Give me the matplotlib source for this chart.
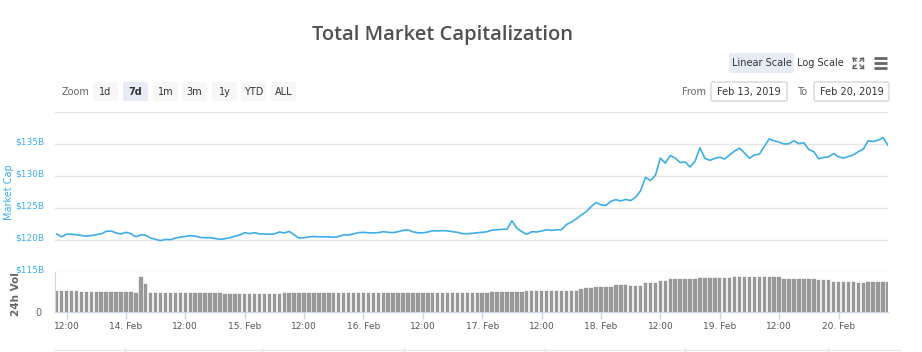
import numpy as np
import matplotlib
matplotlib.use("Agg")
import matplotlib.pyplot as plt
import matplotlib.dates as mdates
from matplotlib.patches import FancyBboxPatch
from matplotlib.ticker import FuncFormatter
from matplotlib.transforms import ScaledTranslation

# data: hours after 2019-02-13 00:00 (UTC), market cap in $B, 24h volume in $B
start = np.datetime64("2019-02-13T00:00")
hours = list(range(10, 179))

mcap = [120.94, 120.5, 120.9, 120.9, 120.83, 120.7, 120.6, 120.7, 120.85, 120.95,
        121.36, 121.4, 121.1, 120.94, 121.2, 121.0, 120.5, 120.8, 120.75, 120.3,
        120.1, 119.9, 120.1, 120.05, 120.3, 120.45, 120.55, 120.67, 120.6, 120.4,
        120.36, 120.36, 120.25, 120.1, 120.2, 120.35, 120.6, 120.78, 121.14, 121.0,
        121.14, 120.95, 120.94, 120.9, 120.95, 121.25, 121.1, 121.35, 120.8, 120.3,
        120.36, 120.48, 120.55, 120.5, 120.5, 120.5, 120.42, 120.55, 120.8, 120.8,
        120.95, 121.15, 121.2, 121.12, 121.12, 121.15, 121.3, 121.2, 121.15, 121.3,
        121.5, 121.58, 121.28, 121.12, 121.12, 121.25, 121.45, 121.42, 121.46, 121.42,
        121.3, 121.2, 120.98, 120.98, 121.05, 121.14, 121.2, 121.3, 121.55, 121.6,
        121.67, 121.67, 123.0, 121.85, 121.3, 120.9, 121.3, 121.25, 121.4, 121.6,
        121.5, 121.6, 121.6, 122.4, 122.8, 123.3, 123.9, 124.4, 125.2, 125.85,
        125.5, 125.4, 126.05, 126.3, 126.1, 126.35, 126.15, 126.7, 127.7, 129.8,
        129.3, 130.1, 132.8, 132.0, 133.2, 132.8, 132.1, 132.2, 131.4, 132.3,
        134.4, 132.76, 132.45, 132.75, 132.95, 132.66, 133.3, 133.9, 134.35, 133.6,
        132.76, 133.3, 133.4, 134.6, 135.8, 135.5, 135.3, 135.0, 135.05, 135.5,
        135.05, 135.2, 134.15, 133.8, 132.7, 132.9, 133.0, 133.5, 133.0, 132.8,
        133.05, 133.3, 133.8, 134.2, 135.5, 135.4, 135.6, 136.0, 134.8]

volume = [21, 21, 21, 21, 21, 19.7, 19.7, 19.7, 19.7, 19.7,
          19.7, 19.7, 19.7, 19.7, 19.7, 19.7, 19, 35, 28, 19,
          19, 19, 19, 19, 19, 19, 19, 19, 19, 19,
          19, 19, 19, 19, 18.3, 18.3, 18.3, 18.3, 18.3, 18.3,
          18.3, 18.3, 18.3, 18.3, 18.3, 18.3, 19, 19, 19, 19,
          19, 19, 19, 19, 19, 19, 19, 19, 19, 19,
          19, 19, 19, 19, 19, 19, 19, 19, 19, 19,
          19, 19, 19, 19, 19, 19, 19, 19, 19, 19,
          19, 19, 19, 19, 19, 19, 19, 19, 20.5, 20.5,
          20.5, 20.5, 20.5, 20.5, 20.5, 21.5, 21.5, 21.5, 21.5, 21.5,
          21.5, 21.5, 21.5, 21.5, 21.5, 21.5, 22.7, 24.3, 24.3, 25.3,
          25.3, 25.3, 25.3, 26.7, 26.7, 26.7, 26, 26, 26, 28.7,
          28.7, 28.7, 30.7, 30.7, 32.7, 32.7, 32.7, 32.7, 32.7, 32.7,
          33.7, 33.7, 33.7, 33.7, 33.7, 33.7, 33.7, 35, 35, 35,
          35, 35, 35, 35, 35, 35, 35, 33.3, 33.3, 33.3,
          33.3, 33.3, 33.3, 33.3, 32, 32, 32, 30, 30, 30,
          30, 30, 29, 29, 30, 30, 30, 30, 30]

cap_ticks = [115, 120, 125, 130, 135, 140]
zoom_buttons = ["1d", "7d", "1m", "3m", "1y", "YTD", "ALL"]
date_from = "Feb 13, 2019"
date_to = "Feb 20, 2019"

W, H = 922, 352
BLUE = "#3daeea"
GRID = "#e6e6e6"
AXIS = "#ccd6eb"
TXT = "#333333"


def frac(x0, y0, x1, y1):
    # pixel box (top-left origin) -> figure fraction rect
    return [x0 / W, 1 - y1 / H, (x1 - x0) / W, (y1 - y0) / H]


times = start + np.array(hours) * np.timedelta64(1, "h")
t = mdates.date2num(times.astype("datetime64[s]").astype(object))
x_lo = mdates.date2num(np.datetime64("2019-02-13T09:40").astype(object))
x_hi = t[-1]

fig = plt.figure(figsize=(W / 100, H / 100), dpi=100)
fig.patch.set_facecolor("white")

# overlay for the page furniture, in pixel coords
bg = fig.add_axes([0, 0, 1, 1])
bg.set_xlim(0, W)
bg.set_ylim(H, 0)
bg.axis("off")

bg.text(443, 35, "Total Market Capitalization", ha="center", va="center",
        fontsize=14.5, color="#505050", family="Open Sans", fontweight="semibold")


def button(x0, x1, y0, y1, label, fc, bold=False, ec="none"):
    bg.add_patch(FancyBboxPatch((x0, y0), x1 - x0, y1 - y0,
                                boxstyle="round,pad=0,rounding_size=2",
                                fc=fc, ec=ec, lw=0.8))
    bg.text((x0 + x1) / 2, (y0 + y1) / 2 + 0.5, label, ha="center", va="center",
            fontsize=7, color=TXT, fontweight="bold" if bold else "normal")


bg.text(62, 92, "Zoom", ha="left", va="center", fontsize=7, color="#666666")
bx = [93, 123, 153, 182, 212, 241, 271]
for i, lab in enumerate(zoom_buttons):
    sel = lab == "7d"
    button(bx[i], bx[i] + 25, 82, 101, lab, "#e6ebf5" if sel else "#f7f7f7", bold=sel)

button(729, 794, 53, 73, "Linear Scale", "#e6ebf5")
bg.text(820, 63.5, "Log Scale", ha="center", va="center", fontsize=7, color=TXT)

# fullscreen icon
c = "#666666"
for sx, sy in [(-1, -1), (1, -1), (-1, 1), (1, 1)]:
    cx, cy = 858 + sx * 5, 63 + sy * 5
    bg.plot([cx, cx - sx * 3], [cy, cy - sy * 3], color=c, lw=1)
    bg.plot([cx, cx - sx * 3], [cy, cy], color=c, lw=1)
    bg.plot([cx, cx], [cy, cy - sy * 3], color=c, lw=1)
# menu icon
for yy in [58, 63, 68]:
    bg.plot([874, 887], [yy, yy], color="#666666", lw=2, solid_capstyle="butt")

bg.text(694, 92, "From", ha="center", va="center", fontsize=7, color="#666666")
button(711, 787, 82, 101, date_from, "white", ec="#cccccc")
bg.text(802, 92, "To", ha="center", va="center", fontsize=7, color="#666666")
button(814, 889, 82, 101, date_to, "white", ec="#cccccc")

# navigator edge at the very bottom
bg.plot([55, 900], [350, 350], color=GRID, lw=1)
for xx in [125, 262, 404, 545, 685, 828]:
    bg.plot([xx, xx], [348, 352], color=GRID, lw=1)

# market cap panel
ax = fig.add_axes(frac(55, 112, 888, 272))
ax.plot(t, mcap, color=BLUE, lw=1.2)
ax.set_xlim(x_lo, x_hi)
ax.set_ylim(115, 140)
ax.set_yticks(cap_ticks)
ax.yaxis.set_major_formatter(FuncFormatter(lambda v, p: "" if v >= 140 else "$%dB" % v))
ax.tick_params(axis="y", length=0, pad=8, labelsize=6.5, labelcolor=BLUE)
lift = ScaledTranslation(0, 3 / 100, fig.dpi_scale_trans)
for lab in ax.get_yticklabels():
    lab.set_transform(lab.get_transform() + lift)
ax.set_xticks([])
ax.grid(axis="y", color=GRID, lw=1)
for s in ax.spines.values():
    s.set_visible(False)
ax.set_facecolor("none")
ax.set_ylabel("Market Cap", color=BLUE, fontsize=7, labelpad=2)
ax.yaxis.set_label_coords(-41 / 833, 0.5)

# volume panel
av = fig.add_axes(frac(55, 272, 888, 312))
av.bar(t, volume, width=0.7 / 24, color="#9a9a9a", edgecolor="#8a8a8a", lw=0.2)
av.set_xlim(x_lo, x_hi)
av.set_ylim(0, 40)
av.set_yticks([0])
av.tick_params(axis="y", length=0, pad=10, labelsize=7, labelcolor="#666666")
av.xaxis.set_major_locator(mdates.HourLocator(byhour=[0, 12]))


def fmt_time(v, p):
    d = mdates.num2date(v)
    return "12:00" if d.hour == 12 else "%d. %s" % (d.day, d.strftime("%b"))


av.xaxis.set_major_formatter(FuncFormatter(fmt_time))
av.tick_params(axis="x", length=5, width=1, color=AXIS, labelsize=6.5,
               labelcolor="#555555", pad=2)
for k in ["top", "right"]:
    av.spines[k].set_visible(False)
av.spines["left"].set_color(AXIS)
av.spines["bottom"].set_color(AXIS)
av.set_ylabel("24h Vol", color="#666666", fontsize=7.5, fontweight="bold", labelpad=2)
av.yaxis.set_label_coords(-34 / 833, 0.45)

fig.savefig("out.png", dpi=100)
